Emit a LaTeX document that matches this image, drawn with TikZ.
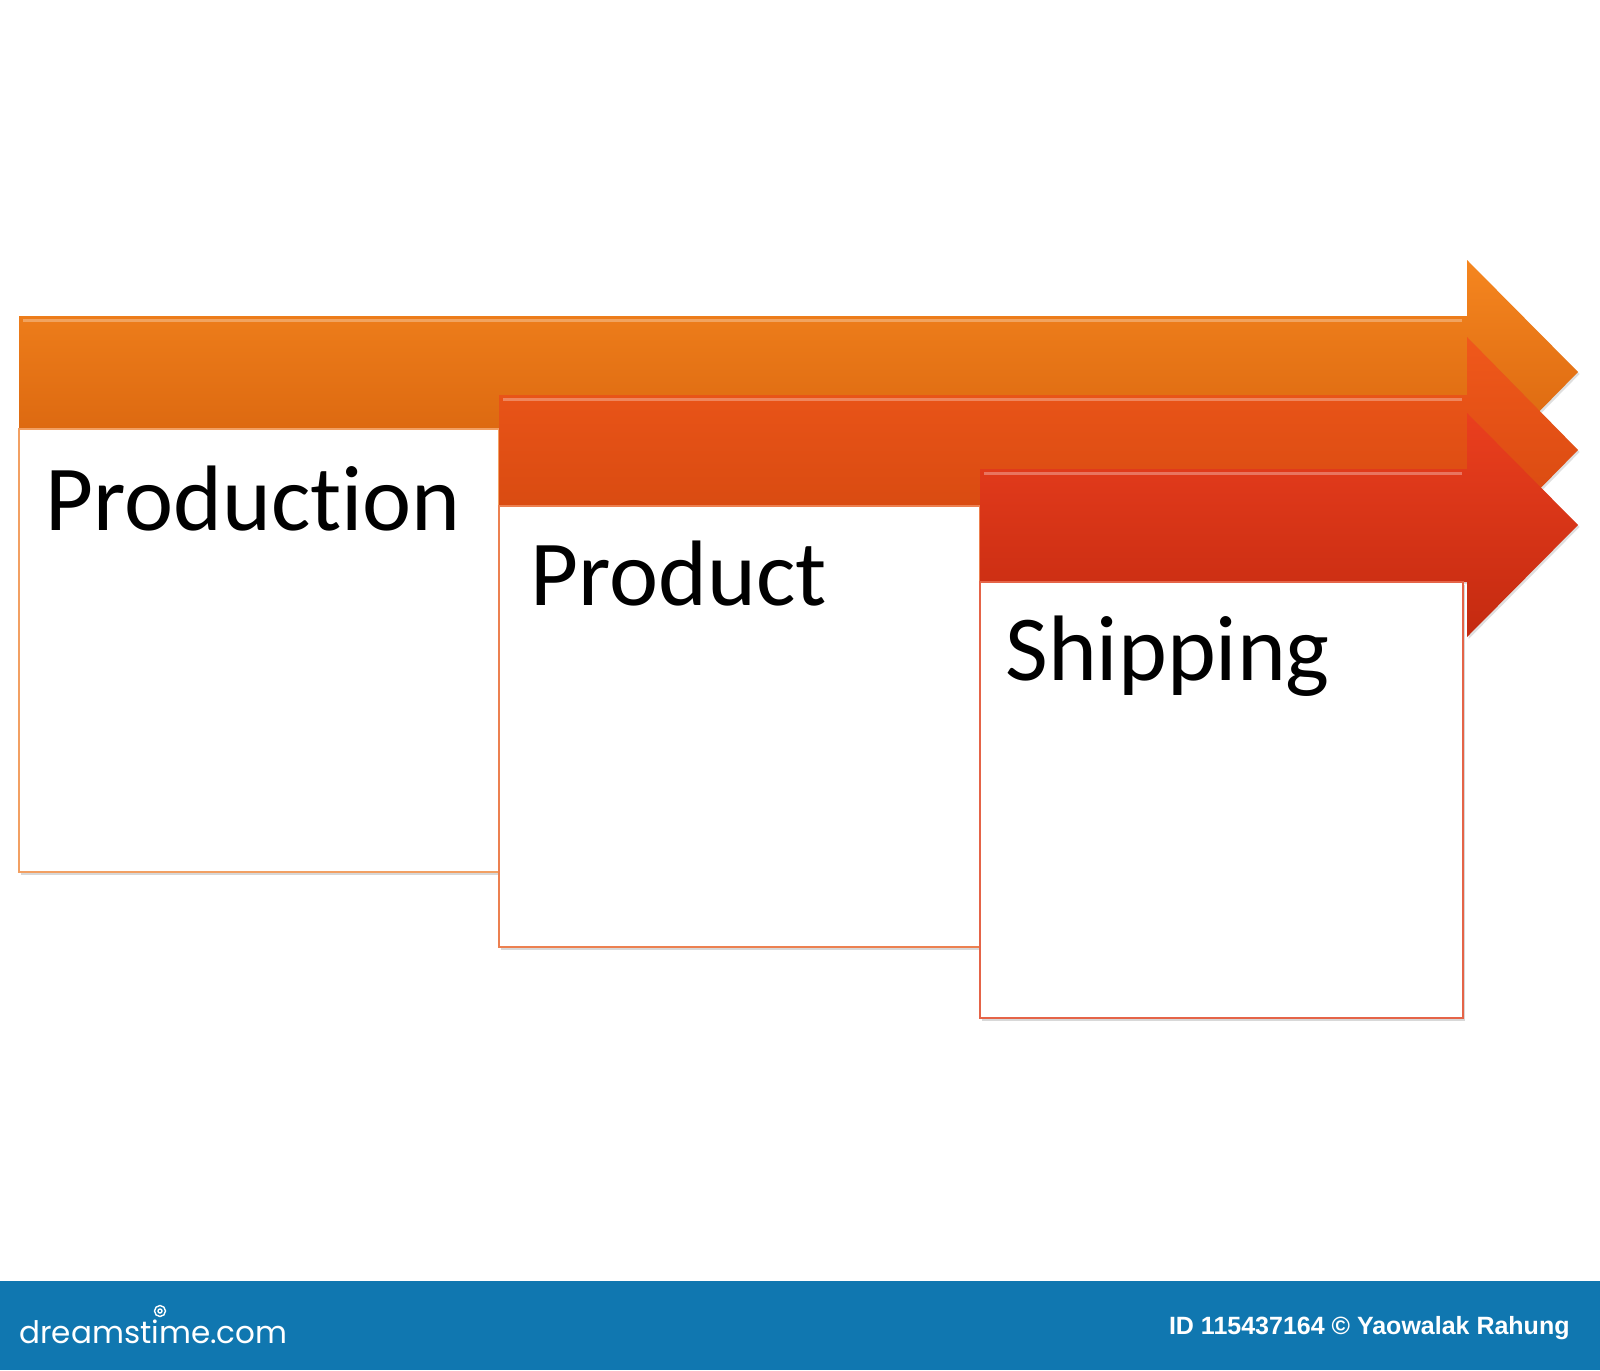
\documentclass[tikz,border=0pt]{standalone}
\usepackage{fontspec}
\setmainfont{Carlito}[Ligatures={NoCommon}]
\newfontfamily\creditfont{Liberation Sans}
\newfontfamily\logofont{Poppins}
\usetikzlibrary{shadows}

\definecolor{orangeTop}{HTML}{F5861F}
\definecolor{orangeBot}{HTML}{D5600C}
\definecolor{darkorangeTop}{HTML}{F0581B}
\definecolor{darkorangeBot}{HTML}{D2470E}
\definecolor{redTop}{HTML}{EA3F1E}
\definecolor{redBot}{HTML}{C42A10}
\definecolor{lineOne}{HTML}{F2A063}
\definecolor{lineTwo}{HTML}{EC8050}
\definecolor{lineThree}{HTML}{E56448}
\definecolor{footblue}{HTML}{1077B0}

\begin{document}
\begin{tikzpicture}[x=0.5pt, y=-0.5pt,
	banner/.style={drop shadow={shadow xshift=0.8pt, shadow yshift=-1pt, opacity=0.25}},
	stepbox/.style={fill=white, line width=1.2pt, drop shadow={shadow xshift=0.8pt, shadow yshift=-1.5pt, opacity=0.3}},
	steptext/.style={anchor=base west, inner sep=0pt, font=\fontsize{46.5}{50}\selectfont}]
	\useasboundingbox (0,0) rectangle (1600,1370);
	\fill[white] (0,0) rectangle (1600,1370); % weisser Hintergrund
	
	% erster Pfeil
	\shade[banner, top color=orangeTop, bottom color=orangeBot] (19,316) -- (1467,316) -- (1467,260) -- (1578,372) -- (1467,485) -- (1467,429) -- (19,429) -- cycle;
	\draw[white, opacity=0.3, line width=1.5pt] (23,320) -- (1462,320);
	\draw[stepbox, draw=lineOne] (19,429) rectangle (499,872);
	\node[steptext] (production) at (45,530) {Production};
	
	% zweiter Pfeil
	\shade[banner, top color=darkorangeTop, bottom color=darkorangeBot] (499,395) -- (1467,395) -- (1467,337) -- (1578,450) -- (1467,563) -- (1467,506) -- (499,506) -- cycle;
	\draw[white, opacity=0.3, line width=1.5pt] (503,399) -- (1462,399);
	\draw[stepbox, draw=lineTwo] (499,506) rectangle (980,947);
	\node[steptext] (product) at (530,605) {Product};
	
	% dritter Pfeil
	\shade[banner, top color=redTop, bottom color=redBot] (980,469) -- (1467,469) -- (1467,413) -- (1578,525) -- (1467,637) -- (1467,582) -- (980,582) -- cycle;
	\draw[white, opacity=0.3, line width=1.5pt] (984,473) -- (1462,473);
	\draw[stepbox, draw=lineThree] (980,582) rectangle (1463,1018);
	\node[steptext] (shipping) at (1005,680) {Shipping};
	
	% Fusszeile
	\fill[footblue] (0,1281) rectangle (1600,1370);
	\node[anchor=base west, inner sep=0pt, text=white, font=\logofont\fontsize{15.5}{18}\selectfont] (logo) at (19,1343) {dreamstime.com};
	\draw[white, line width=0.7pt] (160,1311) circle [radius=5.5];
	\draw[white, line width=0.7pt] (160,1311) circle [radius=2];
	\node[anchor=base east, inner sep=0pt, text=white, font=\creditfont\bfseries\fontsize{12.5}{15}\selectfont] (credit) at (1570,1334) {ID 115437164 © Yaowalak Rahung};
	
	%\draw[help lines, step=100] (0,0) grid (1600,1370);
\end{tikzpicture}
\end{document}
